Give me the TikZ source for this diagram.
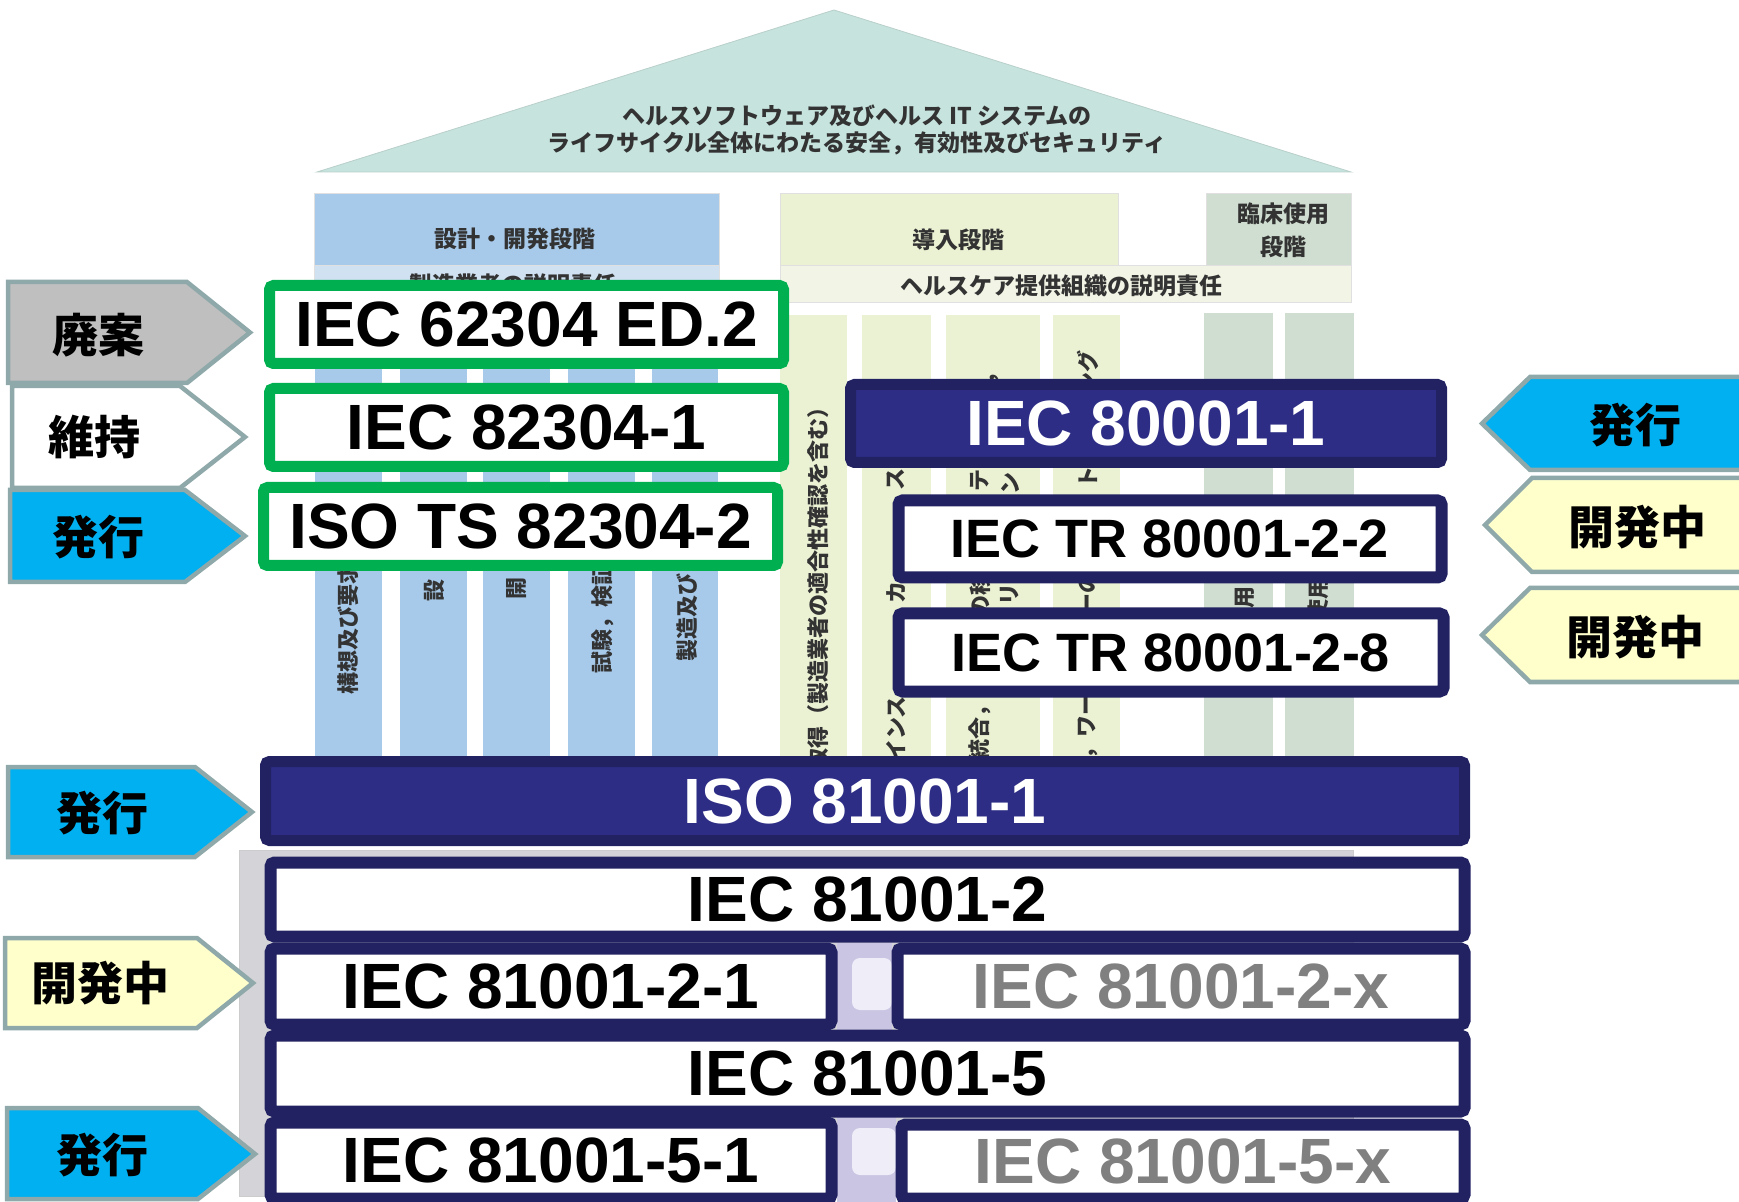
\documentclass[tikz,border=0pt]{standalone}
\usepackage{fontspec}
\setmainfont{Liberation Sans}
\newfontfamily\jp{Noto Sans CJK JP}
\definecolor{roofcol}{HTML}{C6E3DD}
\definecolor{designcol}{HTML}{A8CAEA}
\definecolor{designband}{HTML}{D0E1F2}
\definecolor{implcol}{HTML}{EBF2D4}
\definecolor{implband}{HTML}{F2F5E6}
\definecolor{clincol}{HTML}{D0DDD1}
\definecolor{stdgreen}{HTML}{00B050}
\definecolor{navyline}{HTML}{222262}
\definecolor{navyfill}{HTML}{2D2D86}
\definecolor{tagline}{HTML}{8FA8A9}
\definecolor{tagcyan}{HTML}{00B0F0}
\definecolor{tagyellow}{HTML}{FFFFCC}
\definecolor{taggray}{HTML}{BFBFBF}
\definecolor{gapviolet}{HTML}{C9C5E3}
\definecolor{gaplight}{HTML}{EFEEF8}
\definecolor{backgray}{HTML}{D4D4D8}
\tikzset{
  bgtext/.style={font={\jp\bfseries\fontsize{11}{12}\selectfont}, text=black!80, inner sep=0pt},
  vtext/.style={bgtext, rotate=90},
  headtext/.style={font={\jp\bfseries\fontsize{11.5}{16.5}\selectfont}, text=black!80, align=center, inner sep=0pt},
  tag/.style={draw=tagline, line width=2.25pt},
  tagtext/.style={font={\jp\bfseries\fontsize{23}{26}\selectfont}, inner sep=0pt},
  stdbox/.style={rectangle, rounded corners=2pt, inner sep=0pt, font={\bfseries\fontsize{32}{36}\selectfont}},
  greenbox/.style={stdbox, draw=stdgreen, fill=white, line width=5.5pt, minimum width=257pt, minimum height=39pt},
  navybox/.style={stdbox, draw=navyline, fill=navyfill, text=white, line width=5.5pt},
  rowbox/.style={stdbox, draw=navyline, fill=white, line width=6pt},
  trbox/.style={rowbox, font={\bfseries\fontsize{27}{30}\selectfont}},
}
\begin{document}
\begin{tikzpicture}[x=0.5pt, y=-0.5pt]
\useasboundingbox (0,0) rectangle (1739,1202);
% roof
\draw[fill=roofcol, draw=roofcol!80!gray] (317,172) -- (834,10) -- (1351,172) -- cycle;
\node[headtext, font={\jp\bfseries\fontsize{11.5}{13.5}\selectfont}] (roof) at (857,130)
  {ヘルスソフトウェア及びヘルス IT システムの\\ライフサイクル全体にわたる安全，有効性及びセキュリティ};
% design stage
\draw[fill=designcol, draw=black!12] (314,193) rectangle (719,265);
\draw[fill=designband, draw=black!12] (314,265) rectangle (719,300);
\foreach \xa/\xb in {315/382, 400/467, 483/550, 568/635, 652/718}
  \fill[designcol] (\xa,300) rectangle (\xb,757);
\node[headtext] (design) at (515,239) {設計・開発段階};
\node[headtext] (mfr) at (513,285) {製造業者の説明責任};
\node[vtext, anchor=west] (c1) at (348,695) {構想及び要求事項};
\node[vtext] (c2) at (434,591) {設};
\node[vtext] (c3) at (517,589) {開};
\node[vtext, anchor=west] (c4) at (603,674) {試験，検証};
\node[vtext, anchor=west] (c5) at (687,662) {製造及び};
% implementation stage
\draw[fill=implcol, draw=black!12] (780,193) rectangle (1118,265);
\draw[fill=clincol, draw=black!12] (1206,193) rectangle (1351,265);
\draw[fill=implband, draw=black!12] (780,265) rectangle (1351,302);
\foreach \xa/\xb in {780/847, 862/931, 946/1040, 1053/1120}
  \fill[implcol] (\xa,315) rectangle (\xb,757);
\foreach \xa/\xb in {1204/1273, 1285/1354}
  \fill[clincol] (\xa,313) rectangle (\xb,757);
\node[headtext] (impl) at (958,240) {導入段階};
\node[headtext] (clin) at (1283,230) {臨床使用\\段階};
\node[headtext] (hco) at (1061,286) {ヘルスケア提供組織の説明責任};
\node[vtext, anchor=east] (ca) at (818,396) {取得（製造業者の適合性確認を含む）};
\node[vtext, anchor=west] (cb1) at (896,762) {インス};
\node[vtext] (cb2) at (896,593) {カ};
\node[vtext] (cb3) at (896,480) {ス};
\node[vtext, anchor=west] (cc1) at (980,762) {統合，};
\node[vtext] (cc2) at (980,596) {の移};
\node[vtext] (cc3) at (980,481) {テ};
\node[vtext, anchor=east] (cc4) at (988,362) {行，};
\node[vtext] (cc5) at (1010,595) {リ};
\node[vtext] (cc6) at (1010,484) {ン};
\node[vtext, anchor=west] (cd1) at (1088,760) {，ワー};
\node[vtext] (cd2) at (1088,594) {ーの};
\node[vtext] (cd3) at (1088,478) {ト};
\node[vtext, anchor=east] (cd4) at (1088,350) {ング};
\node[vtext] (ce) at (1245,598) {用};
\node[vtext, anchor=west] (cf) at (1318,622) {使用};
% lower background
\draw[fill=backgray, draw=black!20] (239,850) rectangle (1353,1196);
\fill[gapviolet] (837,943) rectangle (892,1030);
\fill[gaplight, rounded corners=4pt] (852,958) rectangle (892,1010);
\fill[gapviolet] (837,1117) rectangle (896,1204);
\fill[gaplight, rounded corners=4pt] (852,1128) rectangle (896,1175);
% standards
\node[greenbox] (iec62304) at (526.5,324.5) {IEC 62304 ED.2};
\node[greenbox] (iec82304a) at (526.5,427.5) {IEC 82304-1};
\node[greenbox] (iso82304b) at (520.5,526.5) {ISO TS 82304-2};
\node[navybox, minimum width=295.5pt, minimum height=39pt] (iec80001a) at (1146,423.5) {IEC 80001-1};
\node[trbox, minimum width=271.5pt, minimum height=38.5pt] (tr80001b) at (1170,539) {IEC TR 80001-2-2};
\node[trbox, minimum width=272.5pt, minimum height=39pt] (tr80001c) at (1171,652.5) {IEC TR 80001-2-8};
\node[navybox, minimum width=599.5pt, minimum height=39.5pt] (iso81001a) at (865,801) {ISO 81001-1};
\node[rowbox, minimum width=597pt, minimum height=37pt] (iec81001b) at (867.5,899.5) {IEC 81001-2};
\node[rowbox, minimum width=280.5pt, minimum height=38pt] (iec81001c) at (551,986.5) {IEC 81001-2-1};
\node[rowbox, minimum width=283.5pt, minimum height=38pt, text=black!50] (iec81001d) at (1181,986.5) {IEC 81001-2-x};
\node[rowbox, minimum width=597pt, minimum height=38pt] (iec81001e) at (867.5,1073.5) {IEC 81001-5};
\node[rowbox, minimum width=280.5pt, minimum height=38pt] (iec81001f) at (551,1160.5) {IEC 81001-5-1};
\node[rowbox, minimum width=281.5pt, minimum height=37pt, text=black!50] (iec81001g) at (1183,1161.5) {IEC 81001-5-x};
% status tags, left
\draw[tag, fill=taggray] (8,282) -- (187,282) -- (250,332.5) -- (187,383) -- (8,383) -- cycle;
\node[tagtext] (haian) at (98,335) {廃案};
\draw[tag, fill=white] (12,386) -- (180,386) -- (245,437) -- (180,488) -- (12,488) -- cycle;
\node[tagtext] (iji) at (94,437) {維持};
\draw[tag, fill=tagcyan] (10,490) -- (185,490) -- (245,536) -- (185,582) -- (10,582) -- cycle;
\node[tagtext] (hakkoA) at (98,537) {発行};
\draw[tag, fill=tagcyan] (8,767) -- (195,767) -- (252,812) -- (195,857) -- (8,857) -- cycle;
\node[tagtext] (hakkoB) at (102,813) {発行};
\draw[tag, fill=tagyellow] (5,938) -- (197,938) -- (253,983) -- (197,1028) -- (5,1028) -- cycle;
\node[tagtext] (kaihatsuA) at (101,983) {開発中};
\draw[tag, fill=tagcyan] (7,1108) -- (198,1108) -- (255,1154) -- (198,1199) -- (7,1199) -- cycle;
\node[tagtext] (hakkoC) at (102,1155) {発行};
% status tags, right
\draw[tag, fill=tagcyan] (1750,377) -- (1530,377) -- (1482,423.5) -- (1530,470) -- (1750,470) -- cycle;
\node[tagtext] (hakkoD) at (1635,425) {発行};
\draw[tag, fill=tagyellow] (1750,478) -- (1532,478) -- (1485,525) -- (1532,572) -- (1750,572) -- cycle;
\node[tagtext] (kaihatsuB) at (1637,527) {開発中};
\draw[tag, fill=tagyellow] (1750,588) -- (1530,588) -- (1482,635) -- (1530,682) -- (1750,682) -- cycle;
\node[tagtext] (kaihatsuC) at (1635,637) {開発中};
\end{tikzpicture}
\end{document}
